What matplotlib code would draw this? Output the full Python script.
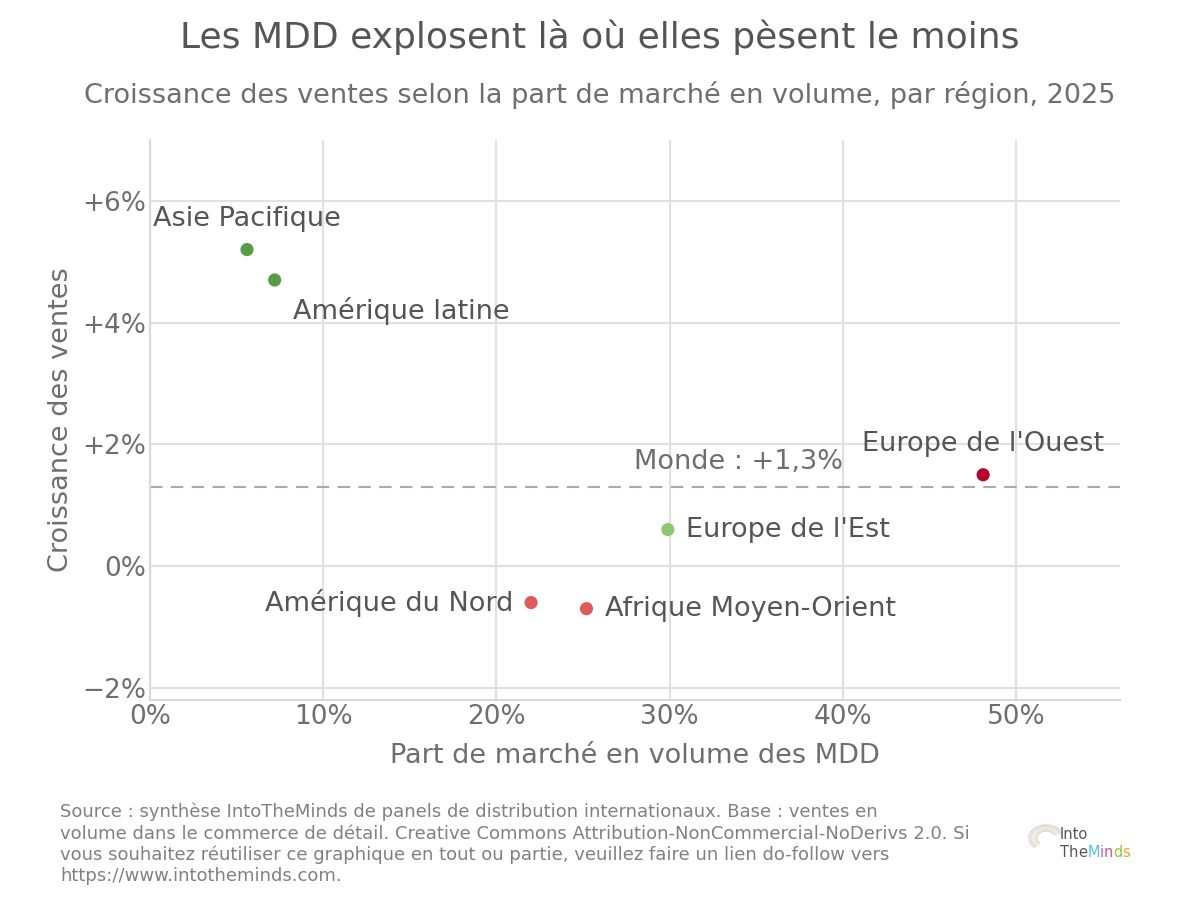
import matplotlib
matplotlib.use("Agg")
from matplotlib import pyplot as plt
from matplotlib.patches import Arc
from matplotlib.ticker import FuncFormatter

plt.rcParams["font.family"] = ["DejaVu Sans"]

# data
regions = ["Asie Pacifique", "Amérique latine", "Europe de l'Ouest", "Europe de l'Est",
           "Amérique du Nord", "Afrique Moyen-Orient"]
part_mdd = [5.6, 7.2, 48.1, 29.9, 22.0, 25.2]
croissance = [5.2, 4.7, 1.5, 0.6, -0.6, -0.7]
colors = ["#559e45", "#559e45", "#b5052f", "#8cc872", "#e05a5a", "#e05a5a"]
monde = 1.3

# label offsets in points and alignment
label_pos = {
    "Asie Pacifique": ((-68, 22), "left"),
    "Amérique latine": ((13, -22), "left"),
    "Europe de l'Ouest": ((0, 22), "center"),
    "Europe de l'Est": ((13, 0), "left"),
    "Amérique du Nord": ((-13, 0), "right"),
    "Afrique Moyen-Orient": ((13, 0), "left"),
}

text_c = "#555555"
grey = "#6e6e6e"

fig = plt.figure(figsize=(12, 9.06), dpi=100)
ax = fig.add_axes([0.125, 0.2274, 0.8083, 0.6181])

ax.grid(True, color="#e0e0e0", linewidth=1.5, zorder=0)
ax.set_axisbelow(True)
for s in ["top", "right"]:
    ax.spines[s].set_visible(False)
for s in ["left", "bottom"]:
    ax.spines[s].set_color("#d9d9d9")
    ax.spines[s].set_linewidth(1.5)

ax.axhline(monde, color="#aaaaaa", linestyle=(0, (6, 4)), linewidth=1.5, zorder=1)
ax.annotate("Monde : +1,3%", (34, monde), xytext=(0, 18), textcoords="offset points",
            ha="center", va="center", fontsize=19.5, color=grey)

ax.scatter(part_mdd, croissance, s=90, c=colors, zorder=3, edgecolors="none")
for name, x, y in zip(regions, part_mdd, croissance):
    off, ha = label_pos[name]
    ax.annotate(name, (x, y), xytext=off, textcoords="offset points",
                ha=ha, va="center", fontsize=19.5, color=text_c)

ax.set_xlim(0, 56)
ax.set_ylim(-2.2, 7.0)
ax.set_xticks([0, 10, 20, 30, 40, 50])
ax.set_yticks([-2, 0, 2, 4, 6])
ax.xaxis.set_major_formatter(FuncFormatter(lambda v, p: f"{v:.0f}%"))
ax.yaxis.set_major_formatter(FuncFormatter(
    lambda v, p: "0%" if v == 0 else (f"+{v:.0f}%" if v > 0 else f"\u2212{abs(v):.0f}%")))
ax.tick_params(length=0, labelsize=19, labelcolor=grey, pad=3)

ax.set_xlabel("Part de marché en volume des MDD", fontsize=19.5, color=grey, labelpad=9)
ax.set_ylabel("Croissance des ventes", fontsize=19.5, color=grey, labelpad=6)

fig.text(0.5, 0.959, "Les MDD explosent là où elles pèsent le moins", ha="center",
         va="center", fontsize=26, color=text_c)
fig.text(0.5, 0.895, "Croissance des ventes selon la part de marché en volume, par région, 2025",
         ha="center", va="center", fontsize=19.5, color=grey)

footer = ("Source : synthèse IntoTheMinds de panels de distribution internationaux. Base : ventes en\n"
          "volume dans le commerce de détail. Creative Commons Attribution-NonCommercial-NoDerivs 2.0. Si\n"
          "vous souhaitez réutiliser ce graphique en tout ou partie, veuillez faire un lien do-follow vers\n"
          "https://www.intotheminds.com.")
fig.text(0.05, 0.1137, footer, ha="left", va="top", fontsize=13, color="#808080", linespacing=1.22)

# logo: faint brain arcs + text
W, H = fig.bbox.width, fig.bbox.height
for i, c in enumerate(["#f4c8d4", "#c8e0f4", "#f8e8b8", "#d4ecc4", "#e0d0ec"]):
    fig.add_artist(Arc((1046 / W, 1 - 838 / H), (34 - i * 4) / W, (26 - i * 3) / H,
                       theta1=20, theta2=230, color=c, lw=1.0, transform=fig.transFigure))
fig.text(1060 / W, 1 - 839 / H, "Into", fontsize=10.5, color="#555555", ha="left", va="baseline")
x0 = 1060 / W
for ch, c in zip("TheMinds", ["#555555"] * 3 + ["#5bc0de", "#c060c0", "#e0508a", "#8cc63f", "#f0a030"]):
    t = fig.text(x0, 1 - 857 / H, ch, fontsize=10.5, color=c, ha="left", va="baseline")
    fig.canvas.draw()
    x0 += t.get_window_extent().width / W

fig.savefig("out.png", dpi=100)
